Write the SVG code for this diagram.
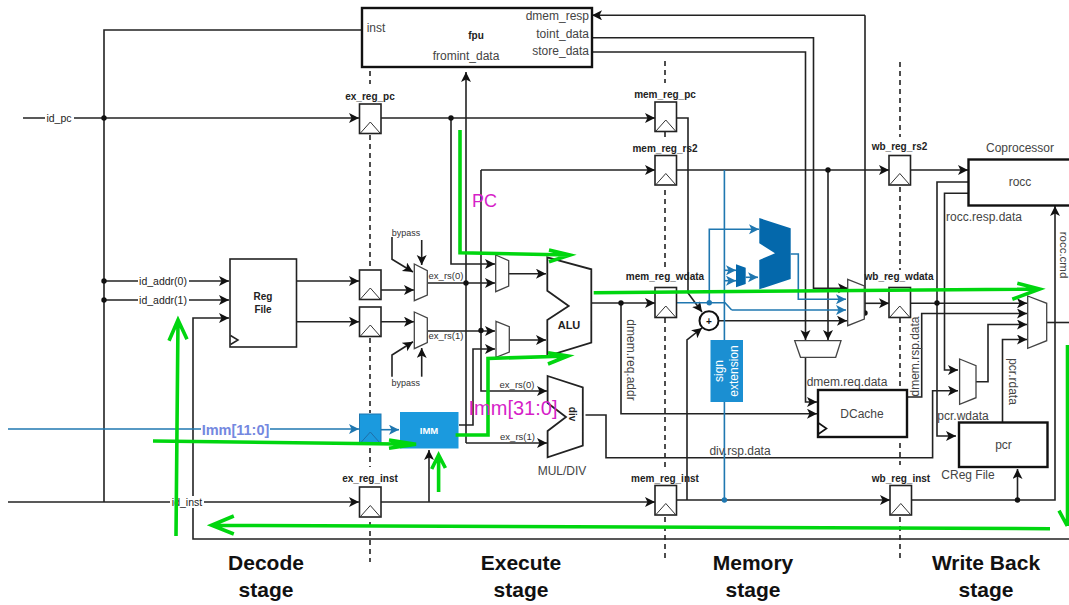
<svg xmlns="http://www.w3.org/2000/svg" width="1069" height="605" viewBox="0 0 1069 605">
<style>
text{font-family:"Liberation Sans",Arial,sans-serif;fill:#444;font-size:12px;text-anchor:middle}
.w{fill:none;stroke:#222;stroke-width:1.6}
.a{marker-end:url(#k)}
.b{fill:none;stroke:#1f77b0;stroke-width:1.6}
.ba{marker-end:url(#kb)}
.d{fill:none;stroke:#222;stroke-width:1.6;stroke-dasharray:5 4}
.g{fill:none;stroke:#00d60f;stroke-width:3.6}
.r{fill:#fff;stroke:#222;stroke-width:1.6}
.t{fill:none;stroke:#333;stroke-width:1}
.m{fill:#fff;stroke:#444;stroke-width:1.3}
.bx{fill:#fff;stroke:#111;stroke-width:2.4}
.n{font-size:10px;font-weight:bold;fill:#222}
.s{font-size:10px;fill:#333}
.st{font-size:21px;font-weight:bold;fill:#111}
.p{font-size:18px;fill:#d61fc8}
</style>
<defs>
<marker id="k" markerUnits="userSpaceOnUse" markerWidth="12" markerHeight="12" refX="10" refY="5" orient="auto"><path d="M0 0L10 5L0 10L2.5 5Z" fill="#111"/></marker>
<marker id="kb" markerUnits="userSpaceOnUse" markerWidth="12" markerHeight="12" refX="10" refY="5" orient="auto"><path d="M0 0L10 5L0 10L2.5 5Z" fill="#1f77b0"/></marker>
</defs>
<rect width="1069" height="605" fill="#fff"/>
<g id="stage-dividers">
<path class="d" d="M370 71V84M370 135V268M370 338V413M370 448V467M370 522V562"/>
<path class="d" d="M665 61V83M665 132V137M665 190V267M665 318V467M665 517V562"/>
<path class="d" d="M900 62V137M900 187V270M900 318V388M900 443V465M900 517V562"/>
</g>
<g id="connectors">
<path class="w" d="M362 30H104V502"/>
<path class="w a" d="M23 118H359"/>
<path class="w a" d="M381 118H655"/>
<path class="w a" d="M104 281H229"/>
<path class="w a" d="M104 300H229"/>
<path class="w a" d="M1069 539H193V318H229"/>
<path class="w a" d="M8 502H359"/>
<path class="w a" d="M381 502H655"/>
<path class="w a" d="M429 502V450"/>
<path class="w a" d="M676 500H890"/>
<path class="w a" d="M912 500H1055V206"/>
<path class="w a" d="M1017.500 500V469"/>
<path class="w a" d="M296 281H359"/>
<path class="w a" d="M296 321.700H359"/>
<path class="w a" d="M381 290H414"/>
<path class="w a" d="M381 321.700H414"/>
<path class="w a" d="M392 237V259.300L413 272"/>
<path class="w a" d="M421.700 240V265"/>
<path class="w a" d="M392 376.700V355L413 341.700"/>
<path class="w a" d="M421.700 376.700V348"/>
<path class="w a" d="M451 118V264H495"/>
<path class="w a" d="M428 283H495"/>
<path class="w a" d="M428 331H495"/>
<path class="w a" d="M459 425H473V349H495"/>
<path class="w a" d="M466 443V72"/>
<path class="w a" d="M466 443H547"/>
<path class="w a" d="M481 170V391H547"/>
<path class="w a" d="M481 170H655"/>
<path class="w a" d="M509 273.700H546"/>
<path class="w a" d="M509.300 340H546"/>
<path class="w a" d="M676 170H889"/>
<path class="w a" d="M910 170H968"/>
<path class="w a" d="M968 182H937V436H956"/>
<path class="w a" d="M968 193.300H944.500V370H958"/>
<path class="w a" d="M865 15.300H592"/>
<path class="w" d="M865 15.300V313"/>
<path class="w a" d="M592 37.700H813.500V288.300H848"/>
<path class="w a" d="M592 52H805.500V340"/>
<path class="w a" d="M828 170V340"/>
<path class="w a" d="M676 118H688V293L702 312"/>
<path class="w a" d="M687 500V340L702 328"/>
<path class="w a" d="M591 303H655"/>
<path class="w a" d="M621 303V413.700H817"/>
<path class="w a" d="M719 320.700H847"/>
<path class="w a" d="M805.500 357V402H817"/>
<path class="w a" d="M865 303.300H889"/>
<path class="w a" d="M910 303.300H1027"/>
<path class="w a" d="M907 397H921.700V313.500H1027"/>
<path class="w a" d="M976 381.700H988V324.500H1027"/>
<path class="w a" d="M1002.500 422V339.500H1027"/>
<path class="w a" d="M585.500 415H606V457.700H932.600V390.700H958"/>
<path class="w" d="M1047 322.500H1069"/>
<path class="b ba" d="M8 429H359"/>
<path class="b ba" d="M381 429.700H399"/>
<path class="b" d="M724.400 170V500"/>
<path class="b" d="M676 302.700H725L731.700 310"/>
<path class="b ba" d="M731.700 310H846"/>
<path class="b ba" d="M709.300 302.700V229.300H759"/>
<path class="b ba" d="M724.400 270.300H736"/>
<path class="b ba" d="M724.400 280.700H736"/>
<path class="b ba" d="M745.700 277.300H758"/>
<path class="b ba" d="M790.700 254H798.300V299.300H846"/>
<circle cx="104" cy="118" r="2.700" fill="#111"/>
<circle cx="104" cy="281" r="2.700" fill="#111"/>
<circle cx="104" cy="300" r="2.700" fill="#111"/>
<circle cx="451" cy="118" r="2.700" fill="#111"/>
<circle cx="466" cy="283" r="2.700" fill="#111"/>
<circle cx="481" cy="330.500" r="2.700" fill="#111"/>
<circle cx="621" cy="303" r="2.700" fill="#111"/>
<circle cx="828" cy="170" r="2.700" fill="#111"/>
<circle cx="865" cy="313" r="2.700" fill="#111"/>
<circle cx="937" cy="303" r="2.700" fill="#111"/>
<circle cx="1017.500" cy="500" r="2.700" fill="#111"/>
<circle cx="709.300" cy="302.700" r="2.700" fill="#1f77b0"/>
<circle cx="724.400" cy="500" r="2.700" fill="#1f77b0"/>
</g>
<g id="connector-labels">
<rect x="45" y="112" width="29" height="12" fill="#fff"/>
<text x="59" y="122" class="s" style="fill:#222;font-size:10.500px">id_pc</text>
<rect x="138" y="275" width="51" height="12" fill="#fff"/>
<text x="163" y="285" class="s" style="fill:#222;font-size:10.500px">id_addr(0)</text>
<rect x="138" y="294" width="51" height="12" fill="#fff"/>
<text x="163" y="304" class="s" style="fill:#222;font-size:10.500px">id_addr(1)</text>
<rect x="170" y="496" width="34" height="12" fill="#fff"/>
<text x="187" y="506" class="s" style="fill:#222;font-size:10.500px">id_inst</text>
<rect x="201" y="422" width="69" height="15" fill="#fff"/>
<text x="235.500" y="434.500" style="fill:#7488e0;font-size:14.500px;font-weight:bold">Imm[11:0]</text>
<text x="406" y="236" class="s" style="font-size:9px">bypass</text>
<text x="405.700" y="385.500" class="s" style="font-size:9px">bypass</text>
<text x="446" y="279" class="s" style="font-size:9.500px">ex_rs(0)</text>
<text x="446" y="338.500" class="s" style="font-size:9.500px">ex_rs(1)</text>
<text x="517" y="387.500" class="s" style="font-size:9.500px">ex_rs(0)</text>
<text x="517.500" y="439.500" class="s" style="font-size:9.500px">ex_rs(1)</text>
<text x="740" y="455">div.rsp.data</text>
<text x="847" y="385.500">dmem.req.data</text>
<text x="963" y="419.500">pcr.wdata</text>
<text x="984" y="221">rocc.resp.data</text>
<text transform="translate(626.500 360) rotate(90)">dmem.req.addr</text>
<text transform="translate(919 356.500) rotate(-90)">dmem.rsp.data</text>
<text transform="translate(1008.500 381.500) rotate(90)">pcr.rdata</text>
<text transform="translate(1059.500 255) rotate(90)" style="font-size:11.500px">rocc.cmd</text>
</g>
<g id="fpu"><rect class="bx" x="362" y="8" width="230" height="59"/>
<text x="476" y="39" class="n">fpu</text>
<text x="376" y="32">inst</text>
<text x="466" y="60">fromint_data</text>
<text x="589" y="19.500" style="text-anchor:end">dmem_resp</text>
<text x="589" y="38" style="text-anchor:end">toint_data</text>
<text x="589" y="54.500" style="text-anchor:end">store_data</text></g>
<g id="ex_reg_pc"><rect class="r" x="359.500" y="104" width="21.500" height="29.500"/><path class="t" d="M360.500 133L370.300 122L380 133"/><text x="370" y="99.500" class="n">ex_reg_pc</text></g>
<g id="ex_rs0_reg"><rect class="r" x="359.500" y="270" width="21.500" height="29.500"/><path class="t" d="M360.500 299L370.300 288L380 299"/></g>
<g id="ex_rs1_reg"><rect class="r" x="359.500" y="307" width="21.500" height="29.500"/><path class="t" d="M360.500 336L370.300 325L380 336"/></g>
<g id="ex_imm_reg"><rect x="359.500" y="414" width="21.500" height="29.500" fill="#1b9ade" stroke="#1f77b0"/><path d="M360.500 443L370.300 432L380 443" fill="none" stroke="#1f6fa8"/></g>
<g id="ex_reg_inst"><rect class="r" x="359.500" y="487" width="21.500" height="30"/><path class="t" d="M360.500 516.500L370.300 505.500L380 516.500"/><text x="370" y="481.500" class="n">ex_reg_inst</text></g>
<g id="mem_reg_pc"><rect class="r" x="655" y="102" width="21.500" height="29.500"/><path class="t" d="M656 131L665.800 120L675.500 131"/><text x="665" y="98" class="n">mem_reg_pc</text></g>
<g id="mem_reg_rs2"><rect class="r" x="655" y="155.500" width="21.500" height="29.500"/><path class="t" d="M656 184.500L665.800 173.500L675.500 184.500"/><text x="665" y="151.500" class="n">mem_reg_rs2</text></g>
<g id="mem_reg_wdata"><rect class="r" x="655" y="287.500" width="21.500" height="30"/><path class="t" d="M656 317L665.800 306L675.500 317"/><text x="665" y="280" class="n">mem_reg_wdata</text></g>
<g id="mem_reg_inst"><rect class="r" x="655" y="485.500" width="21.500" height="29.500"/><path class="t" d="M656 514.500L665.800 503.500L675.500 514.500"/><text x="665" y="481.500" class="n">mem_reg_inst</text></g>
<g id="wb_reg_rs2"><rect class="r" x="889" y="155.500" width="21.500" height="29.500"/><path class="t" d="M890 184.500L899.800 173.500L909.500 184.500"/><text x="899.500" y="149.500" class="n">wb_reg_rs2</text></g>
<g id="wb_reg_wdata"><rect class="r" x="889" y="287.500" width="21.500" height="30"/><path class="t" d="M890 317L899.800 306L909.500 317"/><text x="899" y="280" class="n">wb_reg_wdata</text></g>
<g id="wb_reg_inst"><rect class="r" x="890" y="485.500" width="21.500" height="29.500"/><path class="t" d="M891 514.500L900.800 503.500L910.500 514.500"/><text x="901" y="481.500" class="n">wb_reg_inst</text></g>
<g id="regfile"><rect class="r" x="230" y="259" width="66.500" height="88"/><path d="M230.500 335.500L238 340L230.500 344.500" fill="none" stroke="#222" stroke-width="1.500"/><text x="263" y="300" class="n">Reg</text><text x="263" y="313" class="n">File</text></g>
<g id="mux-bypass0"><path class="m" d="M414.300 264L427.300 270.700V295L414.300 300.700Z"/></g>
<g id="mux-bypass1"><path class="m" d="M414.300 312L427.300 318V342.700L414.300 348.700Z"/></g>
<g id="mux-alu0"><path class="m" d="M495.700 255L508.700 260.700V286L495.700 291.700Z"/></g>
<g id="mux-alu1"><path class="m" d="M496 321.300L509.300 326.700V352L496 357.300Z"/></g>
<g id="alu"><path d="M547.300 257.300L591.300 269.300V342.700L547.300 356V320L568.700 306L547.300 290.700Z" fill="#fff" stroke="#222" stroke-width="1.800"/><text x="569" y="329" class="n" style="font-size:11px">ALU</text></g>
<g id="div"><path d="M547.600 376L582.800 387.300V445.700L547.600 457.300V431L566 417L547.600 403Z" fill="#fff" stroke="#222" stroke-width="1.800"/><text transform="translate(568.500 414) rotate(90)" class="n">div</text><text x="562" y="475">MUL/DIV</text></g>
<g id="imm"><rect x="400" y="412" width="58.500" height="36.500" fill="#1b9ade"/><text x="429" y="433.500" class="n" style="fill:#fff;font-size:9.500px">IMM</text></g>
<g id="adder"><circle cx="709" cy="320.700" r="9.500" fill="#fff" stroke="#111" stroke-width="2"/><text x="709" y="324.500" class="n" style="fill:#111">+</text></g>
<g id="sign-extension"><rect x="710.500" y="340" width="32.500" height="62" fill="#1b8fd2"/><text transform="translate(722.500 371) rotate(-90)" style="fill:#fff">sign</text><text transform="translate(738 371) rotate(-90)" style="fill:#fff">extension</text></g>
<g id="blue-mux-small"><path d="M736 264.300L745.700 267.700V284L736 287.300Z" fill="#0468ab"/></g>
<g id="blue-mux-large"><path d="M759.300 218L790.700 228.300V279L759.300 289.300V260L775 253.300L759.300 243.300Z" fill="#0468ab"/></g>
<g id="mux-wb"><path class="m" d="M847.700 279.300L864.300 286V319L847.700 325.700Z"/></g>
<g id="mux-data"><path class="m" d="M794.700 340.700H841L835.700 357.300H800.500Z"/></g>
<g id="dcache"><rect class="bx" x="818" y="390" width="89" height="47"/><path d="M818.500 423L826.500 428.500L818.500 434" fill="none" stroke="#111" stroke-width="1.600"/><text x="862" y="417.500">DCache</text></g>
<g id="mux-pcr"><path class="m" d="M959.600 359L976 365.700V397.700L959.600 404.300Z"/></g>
<g id="mux-out"><path class="m" d="M1027.700 296L1046.700 303.300V340.700L1027.700 348.300Z"/></g>
<g id="pcr"><rect class="bx" x="959" y="422.500" width="88.500" height="44.500"/><text x="1003.500" y="449">pcr</text><text x="968" y="478.500">CReg File</text></g>
<g id="rocc"><rect class="bx" x="968.500" y="159.500" width="104" height="46"/><text x="1020" y="186">rocc</text><text x="1020" y="152">Coprocessor</text></g>
<g id="annotations">
<path class="g" d="M460 130V252.700L570 255M549 250L570 255L549 261.700"/>
<path class="g" d="M455.600 435H488V358.500L568 356M548 352.700L568 356L548 364"/>
<path class="g" d="M593.700 292.700L1039.700 289M1017.300 283.300L1039.700 289L1012.300 299.300"/>
<path class="g" d="M153 441L416 444.300M389 440L416 444.300L389 448.300"/>
<path class="g" d="M176 536L178 320M169 340.700L178 320L187 339.300"/>
<path class="g" d="M438.600 492V455M431.700 469L438.600 455L445.400 468"/>
<path class="g" d="M1050 528.700L211.600 525.300M233.800 516L211.600 525.300L233.800 534"/>
<path class="g" d="M1067.500 345V526M1059 510.700L1067.300 526"/>
<text x="484.600" y="206.500" class="p">PC</text>
<text x="513" y="415" class="p" style="font-size:20px">Imm[31:0]</text>
</g>
<g id="stage-labels">
<text x="266" y="570" class="st">Decode</text><text x="266" y="597" class="st">stage</text>
<text x="521" y="570" class="st">Execute</text><text x="521" y="597" class="st">stage</text>
<text x="753" y="570" class="st">Memory</text><text x="753" y="597" class="st">stage</text>
<text x="986" y="570" class="st">Write Back</text><text x="986" y="597" class="st">stage</text>
</g>
</svg>
